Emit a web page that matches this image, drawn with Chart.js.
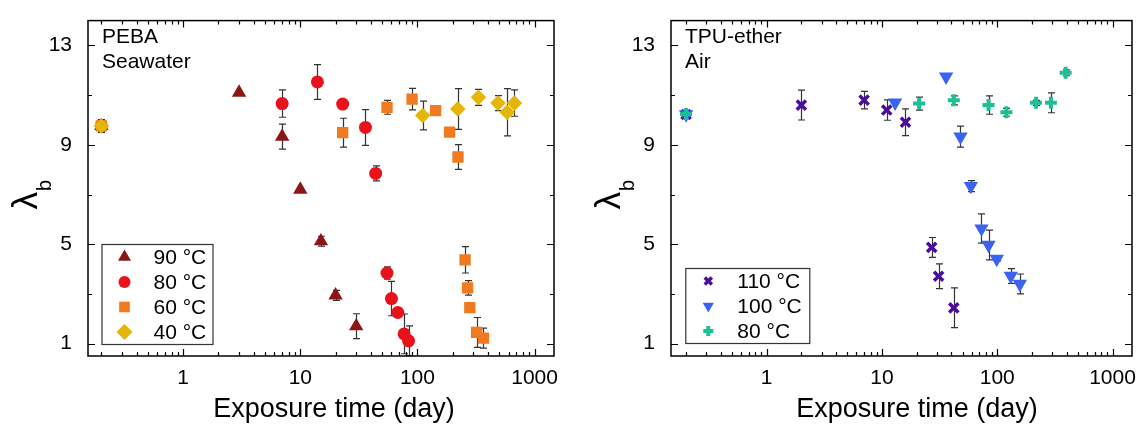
<!DOCTYPE html>
<html>
<head>
<meta charset="utf-8">
<script src="https://cdn.jsdelivr.net/npm/chart.js@4.4.1/dist/chart.umd.min.js"></script>
<style>
  body { margin: 0; background: #fff; }
  .row { display: flex; width: 1142px; height: 425px; }
  canvas { display: block; }
</style>
</head>
<body>
<div class="row">
  <canvas id="left" width="571" height="425"></canvas>
  <canvas id="right" width="571" height="425"></canvas>
</div>
<script>
// PEBA in seawater
const days90 = [0.2, 3, 7, 10, 15, 20, 30];
const lam90 = [9.76, 11.1, 9.33, 7.2, 5.12, 2.94, 1.7];
const err90 = [0, 0, 0.5, 0, 0.2, 0.2, 0.5];

const days80 = [0.2, 7, 14, 23, 36, 44, 55, 60, 68, 77, 84];
const lam80 = [9.76, 10.66, 11.53, 10.64, 9.7, 7.85, 3.84, 2.81, 2.25, 1.39, 1.11];
const err80 = [0.2, 0.55, 0.7, 0, 0.72, 0.3, 0.25, 0.69, 0, 0.8, 0.6];

const days60 = [0.2, 23, 55, 90, 143, 188, 222, 255, 268, 280, 320, 366];
const lam60 = [9.76, 9.49, 10.51, 10.84, 10.38, 9.51, 8.51, 4.37, 3.24, 2.45, 1.45, 1.22];
const err60 = [0, 0.58, 0.28, 0.43, 0, 0.1, 0.5, 0.53, 0.29, 0, 0.6, 0.4];

const days40 = [0.2, 111, 221, 332, 487, 583, 673];
const lam40 = [9.76, 10.18, 10.44, 10.91, 10.68, 10.31, 10.68];
const err40 = [0.26, 0.58, 0.82, 0.32, 0.3, 0.95, 0.53];

// TPU-ether in air
const days110 = [0.2, 2, 7, 11, 16, 27, 31, 42];
const lam110 = [10.22, 10.6, 10.8, 10.4, 9.91, 4.87, 3.71, 2.44];
const err110 = [0.1, 0.6, 0.35, 0.41, 0.54, 0.4, 0.5, 0.8];

const days100 = [0.2, 13, 36, 48, 59, 73, 84, 99, 131, 157];
const lam100 = [10.22, 10.7, 11.74, 9.33, 7.34, 5.63, 4.97, 4.41, 3.72, 3.4];
const err100 = [0, 0, 0, 0.42, 0.22, 0.59, 0.6, 0.08, 0.3, 0.4];

const days80air = [0.2, 21, 42, 84, 120, 217, 292, 392];
const lam80air = [10.24, 10.66, 10.79, 10.6, 10.31, 10.69, 10.69, 11.9];
const err80air = [0.1, 0.26, 0.18, 0.37, 0.16, 0.1, 0.4, 0.12];

const xTicks = [1, 10, 100, 1000];
const yTicks = [1, 5, 9, 13];
const yMinorTicks = [3, 7, 11];

const FONT = '"Liberation Sans", Arial, Helvetica, sans-serif';

function pts(xs, ys) {
  return xs.map((x, i) => ({ x: x, y: ys[i] }));
}

function series(label, xs, ys, errs, color, style, radius, lw, extra) {
  return Object.assign({
    label: label,
    data: pts(xs, ys),
    errors: errs,
    showLine: false,
    pointStyle: style,
    pointRadius: radius,
    backgroundColor: color,
    borderColor: color,
    pointBackgroundColor: color,
    pointBorderColor: color,
    borderWidth: lw,
    pointBorderWidth: lw,
    pointRotation: 0
  }, extra || {});
}

function minorLogTicks(min, max) {
  const out = [];
  for (let d = 0.1; d <= 1000; d *= 10) {
    for (let k = 2; k <= 9; k++) {
      const v = +(k * d).toPrecision(3);
      if (v > min && v < max) out.push(v);
    }
  }
  return out;
}

const decor = {
  id: 'decor',
  beforeDatasetsDraw(chart) {
    const ctx = chart.ctx, a = chart.chartArea;
    const xs = chart.scales.x, ys = chart.scales.y;
    ctx.save();
    ctx.strokeStyle = '#333';
    ctx.lineWidth = 1.2;
    chart.data.datasets.forEach(ds => {
      ds.data.forEach((p, i) => {
        const e = ds.errors[i];
        if (!e) return;
        const px = Math.round(xs.getPixelForValue(p.x)) + 0.5;
        const t = ys.getPixelForValue(p.y + e);
        const b = ys.getPixelForValue(p.y - e);
        ctx.beginPath();
        ctx.moveTo(px, Math.max(t, a.top));
        ctx.lineTo(px, Math.min(b, a.bottom));
        if (t >= a.top) { ctx.moveTo(px - 3.5, t); ctx.lineTo(px + 3.5, t); }
        if (b <= a.bottom) { ctx.moveTo(px - 3.5, b); ctx.lineTo(px + 3.5, b); }
        ctx.stroke();
      });
    });
    ctx.restore();
  },
  afterDraw(chart, args, opts) {
    const ctx = chart.ctx, a = chart.chartArea;
    const xs = chart.scales.x, ys = chart.scales.y;
    ctx.save();
    ctx.strokeStyle = '#000';
    ctx.fillStyle = '#000';

    // frame and inward ticks
    ctx.lineWidth = 1.5;
    ctx.strokeRect(a.left, a.top, a.right - a.left, a.bottom - a.top);
    ctx.lineWidth = 1.2;
    ctx.beginPath();
    const xTick = (v, len) => {
      const px = Math.round(xs.getPixelForValue(v)) + 0.5;
      ctx.moveTo(px, a.bottom); ctx.lineTo(px, a.bottom - len);
      ctx.moveTo(px, a.top); ctx.lineTo(px, a.top + len);
    };
    const yTick = (v, len) => {
      const py = Math.round(ys.getPixelForValue(v)) + 0.5;
      ctx.moveTo(a.left, py); ctx.lineTo(a.left + len, py);
      ctx.moveTo(a.right, py); ctx.lineTo(a.right - len, py);
    };
    xTicks.forEach(v => xTick(v, 7));
    minorLogTicks(xs.min, xs.max).forEach(v => xTick(v, 4));
    yTicks.forEach(v => yTick(v, 7));
    yMinorTicks.forEach(v => yTick(v, 4));
    ctx.stroke();

    // sample notes
    ctx.font = '21px ' + FONT;
    ctx.textBaseline = 'alphabetic';
    ctx.textAlign = 'left';
    opts.notes.forEach((s, i) => ctx.fillText(s, a.left + 14, 42.5 + i * 25));

    // legend
    const L = opts.legend;
    const bx = a.left + L.dx, by = a.bottom - L.dy - L.h;
    ctx.lineWidth = 1.2;
    ctx.strokeStyle = '#333';
    ctx.strokeRect(bx + 0.5, by + 0.5, L.w, L.h);
    ctx.textBaseline = 'middle';
    chart.data.datasets.forEach((ds, i) => {
      const cy = by + 13 + i * 25;
      ctx.fillStyle = ds.pointBackgroundColor;
      ctx.strokeStyle = ds.pointBorderColor;
      ctx.lineWidth = ds.pointBorderWidth;
      Chart.helpers.drawPoint(ctx, {
        pointStyle: ds.pointStyle,
        rotation: ds.pointRotation,
        radius: L.radii[i],
        borderWidth: ds.pointBorderWidth
      }, bx + 23, cy);
      ctx.fillStyle = '#000';
      ctx.fillText(ds.label, bx + 52, cy + 1);
    });

    // axis titles
    ctx.fillStyle = '#000';
    ctx.textBaseline = 'alphabetic';
    ctx.textAlign = 'center';
    ctx.font = '27px ' + FONT;
    ctx.fillText('Exposure time (day)', a.left + 246, 417);

    ctx.translate(a.left - 51.5, a.top + 189);
    ctx.rotate(-Math.PI / 2);
    ctx.textAlign = 'left';
    ctx.font = '35px ' + FONT;
    ctx.fillText('λ', 0, 0);
    const w = ctx.measureText('λ').width;
    ctx.font = '20px ' + FONT;
    ctx.fillText('b', w + 1, 14);
    ctx.restore();
  }
};

function makeChart(id, datasets, area, xMin, xMax, notes, legend) {
  return new Chart(document.getElementById(id), {
    type: 'scatter',
    data: { datasets: datasets },
    options: {
      responsive: false,
      animation: false,
      devicePixelRatio: 1,
      events: [],
      layout: { padding: { top: area.top, right: 571 - area.right, left: 0, bottom: 0 } },
      plugins: {
        legend: { display: false },
        tooltip: { enabled: false },
        decor: { notes: notes, legend: legend }
      },
      scales: {
        x: {
          type: 'logarithmic',
          min: xMin,
          max: xMax,
          grid: { display: false },
          border: { display: false },
          ticks: {
            autoSkip: false,
            maxRotation: 0,
            padding: 2,
            color: '#000',
            font: { family: FONT, size: 21 },
            callback: v => String(v)
          },
          afterBuildTicks: s => { s.ticks = xTicks.map(v => ({ value: v })); },
          afterFit: s => { s.height = 425 - area.bottom; }
        },
        y: {
          type: 'linear',
          min: 0.5,
          max: 14,
          grid: { display: false },
          border: { display: false },
          ticks: {
            padding: 8,
            color: '#000',
            font: { family: FONT, size: 21 },
            callback: v => String(v)
          },
          afterBuildTicks: s => { s.ticks = yTicks.map(v => ({ value: v })); },
          afterFit: s => { s.width = area.left; }
        }
      }
    },
    plugins: [decor]
  });
}

makeChart('left', [
  series('90 °C', days90, lam90, err90, '#8c1616', 'triangle', 8.3, 0, { order: 4 }),
  series('80 °C', days80, lam80, err80, '#e8121b', 'circle', 6.5, 0, { order: 3 }),
  series('60 °C', days60, lam60, err60, '#f07a20', 'rect', 8, 0, { order: 2 }),
  series('40 °C', days40, lam40, err40, '#e5b50a', 'rectRot', 7.8, 0, { order: 1 })
], { left: 88, right: 554, top: 14, bottom: 356 }, 0.154, 1465,
  ['PEBA', 'Seawater'],
  { dx: 13.5, dy: 12, w: 111, h: 100, radii: [7.5, 6, 7.5, 8] });

makeChart('right', [
  series('110 °C', days110, lam110, err110, '#4a0e9c', 'crossRot', 6.5, 3.5, { order: 3 }),
  series('100 °C', days100, lam100, err100, '#3b63f2', 'triangle', 8.3, 0, { order: 2, pointRotation: 180 }),
  series('80 °C', days80air, lam80air, err80air, '#1fbf95', 'cross', 6, 4, { order: 1 })
], { left: 100, right: 568, top: 14, bottom: 356 }, 0.148, 1475,
  ['TPU-ether', 'Air'],
  { dx: 14.3, dy: 13, w: 124, h: 75, radii: [5, 6.5, 5] });
</script>
</body>
</html>
